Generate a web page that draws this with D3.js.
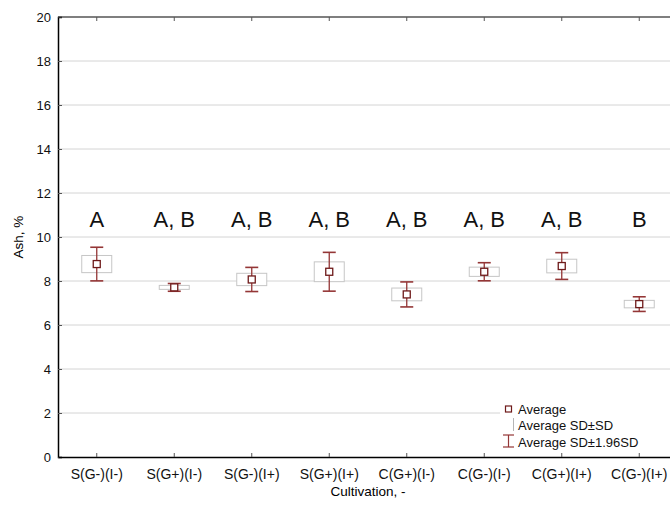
<!DOCTYPE html>
<meta charset="utf-8">
<style>
    body { margin: 0; background: #fff; }
    text { font-family: "Liberation Sans", Arial, sans-serif; }
</style>
<body>
<script src="https://d3js.org/d3.v7.min.js"></script>
<script>
    // data
    let categories = ["S(G-)(I-)", "S(G+)(I-)", "S(G-)(I+)", "S(G+)(I+)", "C(G+)(I-)", "C(G-)(I-)", "C(G+)(I+)", "C(G-)(I+)"];
    let means = [8.77, 7.71, 8.07, 8.42, 7.39, 8.42, 8.68, 6.95];
    let sds = [0.39, 0.09, 0.28, 0.45, 0.29, 0.21, 0.31, 0.17];
    let groupLetters = ["A", "A, B", "A, B", "A, B", "A, B", "A, B", "A, B", "B"];
    let yTicks = [0, 2, 4, 6, 8, 10, 12, 14, 16, 18, 20];

    let width = 670, height = 508;
    let plotLeft = 58, plotTop = 17, plotRight = 678, plotBottom = 457;

    let svg = d3.select("body").append("svg")
        .attr("width", width)
        .attr("height", height);

    let x = d3.scaleBand().domain(categories).range([plotLeft, plotRight]);
    let y = d3.scaleLinear().domain([0, 20]).range([plotBottom, plotTop]);

    let red = "#943636";

    // grid
    svg.append("g").selectAll("line")
        .data(yTicks.slice(1, -1))
        .join("line")
            .attr("x1", plotLeft).attr("x2", plotRight)
            .attr("y1", d => y(d)).attr("y2", d => y(d))
            .attr("stroke", "#d4d4d4");

    // y axis
    let yAxis = svg.append("g")
        .attr("transform", "translate(" + plotLeft + ",0)")
        .call(d3.axisLeft(y).tickValues(yTicks).tickSize(-4).tickPadding(7));
    yAxis.select(".domain").attr("stroke", "#000").attr("stroke-width", 1.5);
    yAxis.selectAll(".tick line").attr("stroke", "#555");
    yAxis.selectAll("text").attr("font-size", 13).attr("fill", "#111")
        .attr("font-family", "Liberation Sans, Arial, sans-serif");

    // x axis
    let xAxis = svg.append("g")
        .attr("transform", "translate(0," + plotBottom + ")")
        .call(d3.axisBottom(x).tickSize(-4).tickPadding(12).tickSizeOuter(0));
    xAxis.select(".domain").attr("stroke", "#000").attr("stroke-width", 1.5);
    xAxis.selectAll(".tick line").attr("stroke", "#555");
    xAxis.selectAll("text").attr("fill", "#111")
        .attr("font-size", 14)
        .attr("font-family", "Lato, 'Liberation Sans', sans-serif");

    // top frame with small ticks
    svg.append("line")
        .attr("x1", plotLeft).attr("x2", plotRight)
        .attr("y1", plotTop).attr("y2", plotTop)
        .attr("stroke", "#000").attr("stroke-width", 1.2);
    svg.append("g").selectAll("line")
        .data(categories)
        .join("line")
            .attr("x1", d => x(d) + x.bandwidth() / 2).attr("x2", d => x(d) + x.bandwidth() / 2)
            .attr("y1", plotTop).attr("y2", plotTop + 4)
            .attr("stroke", "#555");

    // axis titles
    svg.append("text")
        .attr("transform", "translate(23," + y(10) + ") rotate(-90)")
        .attr("text-anchor", "middle")
        .attr("font-size", 13.5)
        .text("Ash, %");
    svg.append("text")
        .attr("x", (plotLeft + plotRight) / 2)
        .attr("y", 496)
        .attr("text-anchor", "middle")
        .attr("font-size", 13.5)
        .text("Cultivation, -");

    // points
    let pts = categories.map((c, i) => ({cat: c, m: means[i], sd: sds[i], letter: groupLetters[i]}));
    let g = svg.append("g").selectAll("g")
        .data(pts)
        .join("g")
            .attr("transform", d => "translate(" + (x(d.cat) + x.bandwidth() / 2) + ",0)");

    // SD box
    g.append("rect")
        .attr("x", -15).attr("width", 30)
        .attr("y", d => y(d.m + d.sd))
        .attr("height", d => y(d.m - d.sd) - y(d.m + d.sd))
        .attr("fill", "#fff")
        .attr("stroke", "#c6c6c6");

    // 1.96 SD whisker
    g.append("line")
        .attr("x1", 0).attr("x2", 0)
        .attr("y1", d => y(d.m + 1.96 * d.sd))
        .attr("y2", d => y(d.m - 1.96 * d.sd))
        .attr("stroke", red).attr("stroke-width", 1.3);
    g.append("line")
        .attr("x1", -6.5).attr("x2", 6.5)
        .attr("y1", d => y(d.m + 1.96 * d.sd))
        .attr("y2", d => y(d.m + 1.96 * d.sd))
        .attr("stroke", red).attr("stroke-width", 1.6);
    g.append("line")
        .attr("x1", -6.5).attr("x2", 6.5)
        .attr("y1", d => y(d.m - 1.96 * d.sd))
        .attr("y2", d => y(d.m - 1.96 * d.sd))
        .attr("stroke", red).attr("stroke-width", 1.6);

    // mean marker
    g.append("rect")
        .attr("x", -3.5).attr("width", 7)
        .attr("y", d => y(d.m) - 3.5).attr("height", 7)
        .attr("fill", "#fff")
        .attr("stroke", "#6e1a1a").attr("stroke-width", 1.3);

    // group letters
    g.append("text")
        .attr("y", y(10.45))
        .attr("text-anchor", "middle")
        .attr("font-size", 22)
        .attr("fill", "#111")
        .text(d => d.letter);

    // legend
    let lg = svg.append("g").attr("transform", "translate(500,400)");
    lg.append("rect").attr("x", 0).attr("y", 0).attr("width", 170).attr("height", 50).attr("fill", "#fff");
    lg.append("rect").attr("x", 5.5).attr("y", 6).attr("width", 6).attr("height", 6)
        .attr("fill", "#fff").attr("stroke", "#6e1a1a").attr("stroke-width", 1.2);
    lg.append("line").attr("x1", 13.5).attr("x2", 13.5).attr("y1", 18).attr("y2", 31).attr("stroke", "#b5b5b5");
    lg.append("line").attr("x1", 8.5).attr("x2", 8.5).attr("y1", 35).attr("y2", 47).attr("stroke", red).attr("stroke-width", 1.2);
    lg.append("line").attr("x1", 3).attr("x2", 14).attr("y1", 35).attr("y2", 35).attr("stroke", red).attr("stroke-width", 1.2);
    lg.append("line").attr("x1", 3).attr("x2", 14).attr("y1", 47).attr("y2", 47).attr("stroke", red).attr("stroke-width", 1.2);
    let legendText = ["Average", "Average SD\u00B1SD", "Average SD\u00B11.96SD"];
    lg.selectAll("text.l")
        .data(legendText)
        .join("text")
            .attr("class", "l")
            .attr("x", 18)
            .attr("y", (d, i) => 13.5 + i * 16.5)
            .attr("font-size", 13)
            .attr("fill", "#111")
            .text(d => d);
</script>
</body>
